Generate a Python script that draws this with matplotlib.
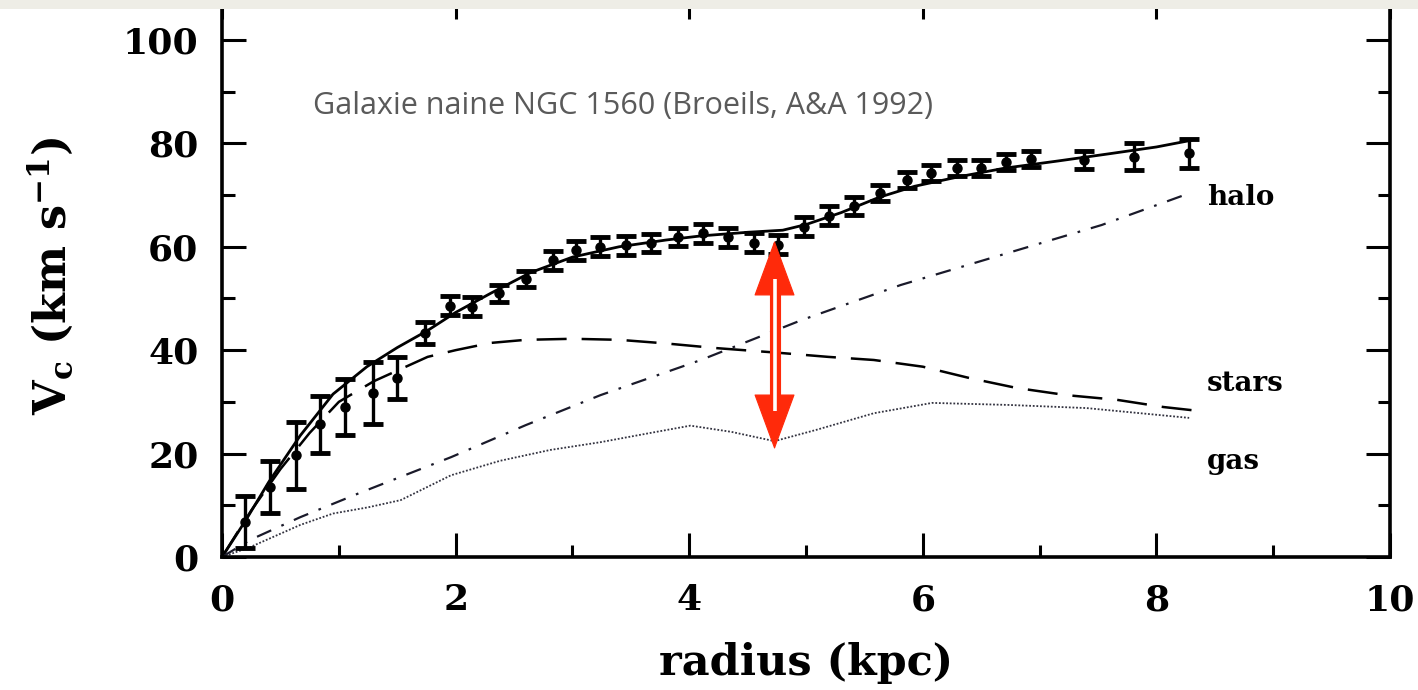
"""
Rotation curve of the dwarf galaxy NGC 1560 with its mass decomposition
(stars, gas, dark halo), after Broeils (A&A 1992).
"""

import matplotlib
matplotlib.use("Agg")
import matplotlib.pyplot as plt
from matplotlib.patches import Rectangle

# observed rotation velocities
radius_obs = [0.20, 0.41, 0.63, 0.84, 1.05, 1.29, 1.50, 1.74, 1.95, 2.14,
              2.37, 2.60, 2.83, 3.03, 3.24, 3.46, 3.67, 3.90, 4.12, 4.33,
              4.55, 4.76, 4.98, 5.20, 5.41, 5.63, 5.86, 6.07, 6.29, 6.50,
              6.71, 6.93, 7.38, 7.81, 8.28]
vc_obs = [6.8, 13.5, 19.7, 25.7, 29.0, 31.7, 34.6, 43.3, 48.6, 48.4,
          51.0, 53.8, 57.4, 59.3, 60.0, 60.3, 60.7, 61.9, 62.6, 61.8,
          60.8, 60.4, 63.9, 66.0, 67.9, 70.4, 72.9, 74.3, 75.2, 75.2,
          76.4, 77.0, 76.8, 77.4, 78.1]
vc_err = [5.0, 5.0, 6.5, 5.5, 5.5, 6.0, 4.0, 2.2, 1.8, 1.8,
          1.6, 1.6, 1.8, 1.8, 1.8, 1.8, 1.8, 1.8, 1.8, 1.8,
          1.8, 1.8, 1.8, 1.8, 1.8, 1.6, 1.6, 1.6, 1.6, 1.6,
          1.6, 1.6, 1.8, 2.6, 2.8]

# model components
r_total = [0.0, 0.2, 0.4, 0.67, 0.95, 1.24, 1.5, 1.76, 2.0, 2.3, 2.64, 3.0,
           3.4, 3.8, 4.1, 4.5, 4.8, 5.0, 5.3, 5.63, 5.93, 6.3, 6.7, 7.16,
           7.6, 8.0, 8.3]
v_total = [0.0, 7.0, 14.5, 23.5, 31.5, 36.8, 40.5, 43.8, 47.3, 51.0, 55.0,
           58.0, 60.0, 61.3, 62.1, 62.8, 63.2, 64.3, 66.6, 69.6, 71.7, 73.5,
           75.2, 76.6, 78.0, 79.3, 80.6]

r_stars = [0.0, 0.25, 0.5, 0.75, 1.0, 1.3, 1.76, 2.0, 2.3, 2.6, 3.0, 3.4,
           3.8, 4.23, 4.76, 5.19, 5.58, 6.0, 6.4, 6.8, 7.23, 7.66, 8.06, 8.3]
v_stars = [0.0, 9.0, 17.0, 24.0, 30.0, 34.0, 38.7, 40.0, 41.4, 42.0, 42.2,
           42.0, 41.3, 40.4, 39.5, 38.7, 38.1, 36.8, 34.6, 32.7, 31.3, 30.4,
           29.0, 28.4]

r_gas = [0.0, 0.24, 0.67, 0.95, 1.25, 1.53, 1.96, 2.38, 2.81, 3.24, 3.67,
         4.01, 4.36, 4.73, 5.09, 5.58, 6.08, 6.74, 7.4, 8.28]
v_gas = [0.0, 1.9, 6.2, 8.4, 9.6, 11.0, 15.8, 18.6, 20.7, 22.2, 24.0,
         25.4, 24.2, 22.4, 24.6, 27.8, 29.8, 29.4, 28.8, 26.9]

r_halo = [0.0, 0.24, 0.67, 1.18, 1.53, 1.96, 2.6, 3.24, 4.1, 4.96, 5.81,
          6.67, 7.53, 8.3]
v_halo = [0.0, 3.3, 7.7, 12.4, 15.5, 19.3, 25.5, 31.3, 38.1, 45.8, 52.6,
          58.4, 64.2, 70.5]

component_labels = ["halo", "stars", "gas"]
component_label_v = [69.5, 33.5, 18.5]

# gap between the observed curve and the baryons at the dip
arrow_r = 4.73
arrow_lo = 20.8
arrow_hi = 61.2
arrow_head = 7.5   # length of each head, in km/s

title = "Galaxie naine NGC 1560 (Broeils, A&A 1992)"

RED = "#ff2a0a"
SERIF = "DejaVu Serif"

plt.rcParams["mathtext.fontset"] = "dejavuserif"

fig = plt.figure(figsize=(14.18, 6.90), dpi=100)
fig.patch.set_facecolor("white")
# the frame runs a little past the top edge of the figure
ax = fig.add_axes([0.1566, 0.1928, 0.8237, 0.8145])

ax.plot(r_total, v_total, color="black", lw=2.0, solid_capstyle="round")
ax.plot(r_stars, v_stars, color="black", lw=1.8, dashes=(12, 6))
ax.plot(r_halo, v_halo, color="#1a1a2a", lw=1.6, dashes=(7, 5, 1.2, 5))
ax.plot(r_gas, v_gas, color="#333340", lw=1.3, ls=(0, (1, 1)))

ax.errorbar(radius_obs, vc_obs, yerr=vc_err, fmt="o", color="black",
            ms=6.5, elinewidth=2.4, capsize=7, capthick=3.5, zorder=5)

for lab, v in zip(component_labels, component_label_v):
    ax.text(8.43, v, lab, fontsize=20, fontweight="bold", family=SERIF,
            va="center", ha="left")

ax.text(0.78, 87.3, title, fontsize=22, color="#5a5a5a",
        family="Open Sans", ha="left", va="center")

# double-headed arrow with a hollow shaft
ax.annotate("", xy=(arrow_r, arrow_hi), xytext=(arrow_r, arrow_lo),
            arrowprops=dict(arrowstyle="<|-|>,head_length=1.9,head_width=0.7",
                            mutation_scale=20, color=RED, lw=0.8,
                            shrinkA=0, shrinkB=0), zorder=6)
ax.plot([arrow_r, arrow_r], [arrow_lo + arrow_head - 0.5, arrow_hi - arrow_head + 0.5],
        color=RED, lw=8, zorder=7, solid_capstyle="butt")
ax.plot([arrow_r, arrow_r], [arrow_lo + arrow_head, arrow_hi - arrow_head],
        color="white", lw=2.6, zorder=8, solid_capstyle="butt")

ax.set_xlim(0, 10)
ax.set_ylim(0, 108.7)
ax.set_xticks([0, 2, 4, 6, 8, 10])
ax.set_xticks([1, 3, 5, 7, 9], minor=True)
ax.set_yticks([0, 20, 40, 60, 80, 100])
ax.set_yticks([10, 30, 50, 70, 90], minor=True)

ax.tick_params(which="both", direction="in", top=True, right=True,
               width=2.2, labelsize=26)
ax.tick_params(axis="x", pad=19)
ax.tick_params(axis="y", pad=17)
ax.tick_params(which="major", length=17)
ax.tick_params(which="minor", length=9)
for lbl in ax.get_xticklabels() + ax.get_yticklabels():
    lbl.set_family(SERIF)
    lbl.set_fontweight("bold")
for s in ax.spines.values():
    s.set_linewidth(2.6)

ax.set_xlabel("radius (kpc)", fontsize=31, family=SERIF,
              fontweight="bold", labelpad=18)
ax.set_ylabel(r"V$_{\mathbf{c}}$ (km s$^{\mathbf{-1}}$)", fontsize=32,
              family=SERIF, fontweight="bold", labelpad=34)

# pale strip along the top edge
fig.patches.append(Rectangle((0, 0.987), 1, 0.013, transform=fig.transFigure,
                             facecolor="#eeede6", edgecolor="none", zorder=10))

fig.savefig("out.png", dpi=100)
